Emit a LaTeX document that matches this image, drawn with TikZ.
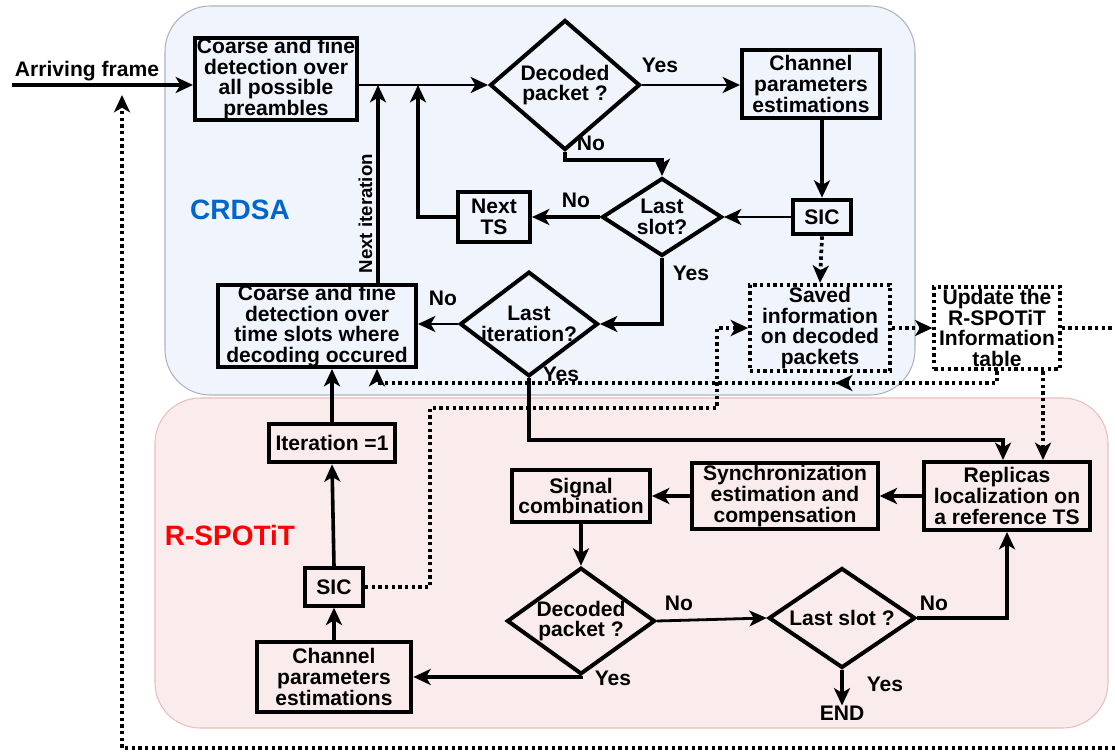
\documentclass[tikz,border=0pt]{standalone}
\usepackage{fontspec}
\setmainfont{Liberation Sans}
\usetikzlibrary{shapes.geometric,arrows.meta}
\definecolor{crdsafill}{RGB}{240,244,252}
\definecolor{crdsaline}{RGB}{175,178,190}
\definecolor{spotfill}{RGB}{250,236,236}
\definecolor{spotline}{RGB}{232,190,190}
\definecolor{crdsablue}{RGB}{0,102,204}

\begin{document}
\begin{tikzpicture}[
      x=0.75pt, y=-0.75pt,
      every node/.style={inner sep=0pt,align=center,font=\bfseries\fontsize{15.8}{15.5}\selectfont},
      box/.style={draw,rectangle,line width=3pt},
      dbox/.style={draw,rectangle,line width=2.8pt,dash pattern=on 2.6pt off 2.4pt},
      dec/.style={draw,diamond,line width=3pt,inner sep=-5pt},
      region/.style={line width=0.8pt,rounded corners=34pt},
      lbl/.style={inner sep=1pt},
      arr/.style={line width=2.7pt,-{Stealth[length=13pt,width=12pt,inset=3.5pt]}},
      tarr/.style={line width=2.1pt,-{Stealth[length=13pt,width=12pt,inset=3.5pt]}},
      dotline/.style={line width=2.8pt,dash pattern=on 2.6pt off 2.4pt},
      dotarr/.style={dotline,-{Stealth[length=13pt,width=12pt,inset=3.5pt]}}
    ]
  \useasboundingbox (0,0) rectangle (1115,755);

  \draw[region,draw=crdsaline,fill=crdsafill] (165,6) rectangle (915,395);
  \draw[region,draw=spotline,fill=spotfill] (155,398) rectangle (1108,728);
  \node[text=crdsablue,font=\bfseries\fontsize{21}{24}\selectfont] (crdsa) at (240,210) {CRDSA};
  \node[text=red,font=\bfseries\fontsize{21}{24}\selectfont] (rspotit) at (230,535) {R-SPOTiT};

  \node[box,minimum width=121.5pt,minimum height=61.5pt] (detA) at (276,79) {Coarse and fine\\detection over\\all possible\\preambles};
  \node[dec,minimum width=112.5pt,minimum height=97.5pt] (dec1) at (565,85) {Decoded\\packet ?};
  \node[box,minimum width=103.5pt,minimum height=51pt] (chan1) at (811,84) {Channel\\parameters\\estimations};
  \node[box,minimum width=43pt,minimum height=26pt] (sic1) at (822,217) {SIC};
  \node[dec,minimum width=90pt,minimum height=58.5pt] (slot1) at (662,217) {Last\\slot?};
  \node[box,minimum width=54pt,minimum height=37.5pt] (nextts) at (494,217) {Next\\TS};
  \node[dec,minimum width=103.5pt,minimum height=72pt] (iter1) at (529,324) {Last\\iteration?};
  \node[box,minimum width=148.5pt,minimum height=61.5pt] (detB) at (317,326) {Coarse and fine\\detection over\\time slots where\\decoding occured};
  \node[dbox,minimum width=105pt,minimum height=65pt] (saved) at (820,328) {Saved\\information\\on decoded\\packets};
  \node[dbox,minimum width=94pt,minimum height=62pt] (update) at (997,328) {Update the\\R-SPOTiT\\Information\\table};

  \node[box,minimum width=94pt,minimum height=29pt] (iterone) at (332,443) {Iteration =1};
  \node[box,minimum width=43.5pt,minimum height=28pt] (sic2) at (334,587) {SIC};
  \node[box,minimum width=116pt,minimum height=52.5pt] (chan2) at (334,677) {Channel\\parameters\\estimations};
  \node[box,minimum width=124.5pt,minimum height=51pt] (replica) at (1007,496) {Replicas\\localization on\\a reference TS};
  \node[box,minimum width=139pt,minimum height=50pt] (sync) at (785,496) {Synchronization\\estimation and\\compensation};
  \node[box,minimum width=103.5pt,minimum height=39pt] (combine) at (581,496) {Signal\\combination};
  \node[dec,minimum width=111pt,minimum height=80pt] (dec2) at (581,621) {Decoded\\packet ?};
  \node[dec,minimum width=110pt,minimum height=75pt] (slot2) at (842,618) {Last slot ?};
  \node (fin) at (842,713) {END};

  \node[lbl] (yes1) at (660,65) {Yes};
  \node[lbl] (no1) at (591,143) {No};
  \node[lbl] (no2) at (576,200) {No};
  \node[lbl] (yes2) at (691,273) {Yes};
  \node[lbl] (no3) at (443,298) {No};
  \node[lbl] (yes3) at (561,374) {Yes};
  \node[lbl] (no4) at (679,603) {No};
  \node[lbl] (no5) at (934,603) {No};
  \node[lbl] (yes4) at (613,678) {Yes};
  \node[lbl] (yes5) at (885,684) {Yes};

  \coordinate (src) at (12,85);
  \coordinate (nxt) at (378,85);
  \coordinate (back) at (418,85);
  \coordinate (ybend) at (1003,440);
  \coordinate (mid1) at (835,383);
  \coordinate (pin) at (377,383);

  \node[lbl] (arriving) at (87,71) {Arriving frame};
  \draw[arr] (src) -- (src -| detA.west);
  \draw[tarr] (detA.east |- dec1) -- (dec1.west);
  \draw[arr] (nxt |- detB.north) -- (nxt)
    node[pos=0.35,above,sloped,inner sep=3pt,font=\bfseries\fontsize{14}{15}\selectfont] (nextit) {Next iteration};
  \draw[arr] (nextts.west) -| (back);
  \draw[tarr] (dec1.east) -- (chan1.west |- dec1.east);
  \draw[arr] (dec1.south) -- ++(0,8) -| (slot1.north);
  \draw[arr] (sic1.north |- chan1.south) -- (sic1.north);
  \draw[tarr] (sic1.west) -- (slot1.east);
  \draw[arr] (slot1.west) -- (nextts.east);
  \draw[arr] (slot1.south) |- (iter1.east);
  \draw[tarr] (iter1.west) -- (iter1.west -| detB.east);
  \draw[arr] (iter1.south) |- (ybend) -- (ybend |- replica.north);

  \draw[dotarr] (sic1.south) -- (saved.north);
  \draw[dotarr] (saved.east) -- (update.west);
  \draw[dotarr] (update.east) -- (1125,328) -- (1125,748) -- (122,748) -- (122,95);
  \draw[dotarr] (update.south) |- (mid1);
  \draw[dotarr] (mid1) -- (pin) -- (pin |- detB.south);
  \draw[dotarr] ([xshift=34.5pt]update.south) -- ([xshift=34.5pt]update.south |- replica.north);
  \draw[dotarr] (sic2.east) -| (430,408) -| (717,328) -- (saved.west);

  \draw[arr] (iterone.north) -- (iterone.north |- detB.south);
  \draw[arr] (sic2.north) -- (iterone.south);
  \draw[arr] (chan2.north) -- (sic2.south);
  \draw[arr] (replica.west) -- (sync.east);
  \draw[arr] (sync.west) -- (combine.east);
  \draw[arr] (combine.south) -- (dec2.north);
  \draw[arr] (dec2.south) |- (chan2.east);
  \draw[tarr] (dec2.east) -- (slot2.west);
  \draw[arr] (slot2.south) -- (fin.north);
  \draw[arr] (slot2.east) -| (replica.south);
\end{tikzpicture}
\end{document}
